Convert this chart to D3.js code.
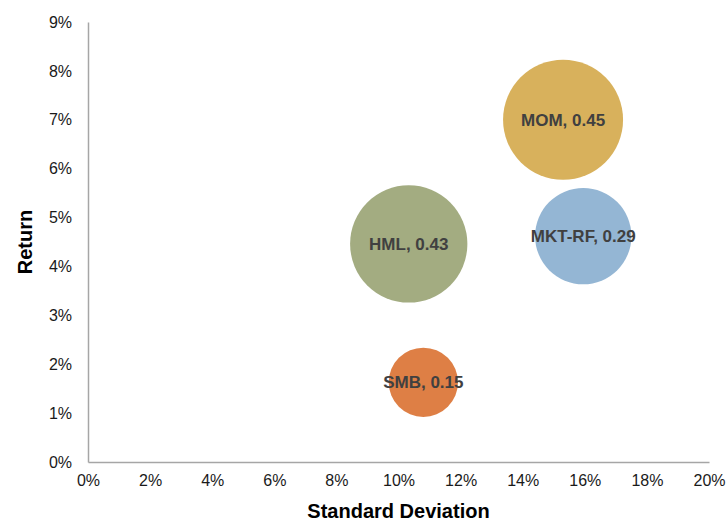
<!DOCTYPE html>
<html>
<head>
<meta charset="utf-8">
<script src="https://cdn.jsdelivr.net/npm/d3@7"></script>
<style>
  body { margin: 0; background: #fff; }
  text { font-family: "Liberation Sans", Arial, sans-serif; }
</style>
</head>
<body>
<div id="chart"></div>
<script>
// factor data: std dev (x), return (y), bubble size
const factors = ["MOM", "MKT-RF", "HML", "SMB"];
const stdDev = [0.153, 0.1595, 0.1033, 0.108];
const returns = [0.070, 0.0462, 0.0446, 0.0163];
const sizes = [0.45, 0.29, 0.43, 0.15];
const colors = ["#d8b15c", "#94b6d4", "#a3ac81", "#de7f45"];
const xTicks = [0, 0.02, 0.04, 0.06, 0.08, 0.10, 0.12, 0.14, 0.16, 0.18, 0.20];
const yTicks = [0, 0.01, 0.02, 0.03, 0.04, 0.05, 0.06, 0.07, 0.08, 0.09];

const margin = { top: 22, right: 18, bottom: 59, left: 88 };
const width = 727 - margin.left - margin.right;
const height = 521 - margin.top - margin.bottom;

const svg = d3.select("#chart")
  .append("svg")
  .attr("width", 727)
  .attr("height", 521)
  .append("g")
  .attr("transform", `translate(${margin.left},${margin.top})`);

const xScale = d3.scaleLinear().domain([0, 0.2]).range([0, width]);
const yScale = d3.scaleLinear().domain([0, 0.09]).range([height, 0]);
const rScale = d3.scaleSqrt().domain([0, 0.45]).range([0, 60]);

const fmt = d3.format(".0%");

// Axes
const xAxis = svg.append("g")
  .attr("transform", `translate(0,${height})`)
  .call(d3.axisBottom(xScale).tickValues(xTicks).tickFormat(fmt).tickSize(0).tickPadding(13));

const yAxis = svg.append("g")
  .call(d3.axisLeft(yScale).tickValues(yTicks).tickFormat(fmt).tickSize(0).tickPadding(16));

[xAxis, yAxis].forEach(ax => {
  ax.select(".domain").attr("stroke", "#a6a6a6").attr("stroke-width", 1.5);
  ax.selectAll("text")
    .attr("font-size", "16px")
    .attr("fill", "#1a1a1a")
    .style("font-family", "'Liberation Sans', Arial, sans-serif");
});

// Axis labels
svg.append("text")
  .attr("x", width / 2)
  .attr("y", height + 56)
  .attr("text-anchor", "middle")
  .attr("font-size", "20px")
  .attr("font-weight", "bold")
  .attr("fill", "#000")
  .text("Standard Deviation");

svg.append("text")
  .attr("transform", "rotate(-90)")
  .attr("x", -height / 2)
  .attr("y", -56)
  .attr("text-anchor", "middle")
  .attr("font-size", "20px")
  .attr("font-weight", "bold")
  .attr("fill", "#000")
  .text("Return");

// Bubbles
const data = factors.map((f, i) => ({
  name: f, x: stdDev[i], y: returns[i], size: sizes[i], color: colors[i]
}));

const bubbles = svg.selectAll(".bubble")
  .data(data)
  .join("g")
  .attr("class", "bubble");

bubbles.append("circle")
  .attr("cx", d => xScale(d.x))
  .attr("cy", d => yScale(d.y))
  .attr("r", d => rScale(d.size))
  .attr("fill", d => d.color);

bubbles.append("text")
  .attr("x", d => xScale(d.x))
  .attr("y", d => yScale(d.y))
  .attr("dy", "0.35em")
  .attr("text-anchor", "middle")
  .attr("font-size", "17px")
  .attr("font-weight", "bold")
  .attr("fill", "#404040")
  .text(d => `${d.name}, ${d.size.toFixed(2)}`);
</script>
</body>
</html>
